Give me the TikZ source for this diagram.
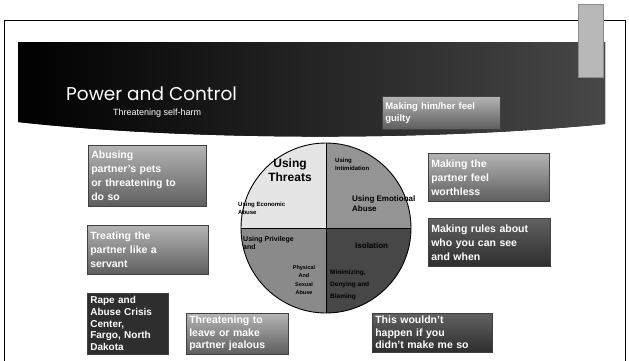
\documentclass[tikz,border=0pt]{standalone}
\usepackage{fontspec}
\setmainfont{Liberation Sans}
\newfontfamily\titlefont{Poppins}
\usetikzlibrary{positioning,calc}
\definecolor{boxtop}{HTML}{B4B4B4}
\definecolor{boxbot}{HTML}{5E5E5E}
\definecolor{darkbox}{HTML}{2E2E2E}

\begin{document}
\begin{tikzpicture}[x=1pt, y=-1pt,
  tagbox/.style={draw=black!75, line width=0.6pt, top color=boxtop, bottom color=boxbot,
    text=white, align=left, anchor=north west, inner sep=3pt, text width=#1,
    font=\bfseries\fontsize{10.5}{14}\selectfont},
  darktag/.style={tagbox=#1, top color=black!62, bottom color=black!82},
  lowtag/.style={inner ysep=3pt, font=\bfseries\fontsize{10.5}{12.5}\selectfont},
  pielabel/.style={font=\bfseries\fontsize{6}{7.5}\selectfont, align=left, anchor=north west, inner sep=0pt}]
\useasboundingbox (0,0) rectangle (629,360);
% ================= slide frame and banner =================
\draw[line width=0.8pt] (4,20) rectangle (625,372);
\fill[left color=black, right color=black!72] (18,42) -- (605,42) -- (605,124)
   .. controls (420,142) and (180,140) .. (18,122) -- cycle;
\fill[black!28] (578,4) rectangle (603,77);
\draw[black!45] (578,4) rectangle (603,77);
\node[font=\titlefont\fontsize{18.5}{22}\selectfont, text=white, anchor=base west, inner sep=0pt]
   (title) at (66,100) {Power and Control};
\node[font=\fontsize{9}{11}\selectfont, text=white, anchor=base west, inner sep=0pt]
   (subtitle) at (113,115) {Threatening self-harm};
\node[tagbox=112pt, minimum height=33, font=\bfseries\fontsize{9.5}{12}\selectfont] (guilt) at (382,96)
   {Making him/her feel\\guilty};
% ================= wheel =================
\coordinate (hub) at (326,228);
\begin{scope}
  \clip (hub) circle (85);
  \fill[black!10] (241,143) rectangle (326,228);
  \fill[black!42] (326,143) rectangle (411,228);
  \fill[black!46] (241,228) rectangle (326,313);
  \fill[black!72] (326,228) rectangle (411,313);
\end{scope}
\draw[line width=0.9pt] (hub) circle (85);
\draw[line width=0.9pt] (326,143) -- (326,313);
\draw[line width=0.6pt] (241,228) -- (411,228);
\node[font=\bfseries\fontsize{12}{14}\selectfont, align=center, inner sep=0pt] (threats) at (290,170)
   {Using\\Threats};
\node[pielabel] (intim) at (335,158) {Using\\Intimidation};
\node[pielabel, font=\bfseries\fontsize{8}{10}\selectfont] (emotion) at (352,195) {Using Emotional\\Abuse};
\node[pielabel] (econ) at (238,202) {Using Economic\\Abuse};
\node[pielabel, font=\bfseries\fontsize{7}{8.5}\selectfont] (privilege) at (243,236) {Using Privilege\\and};
\node[pielabel, font=\bfseries\fontsize{5.5}{8.5}\selectfont, align=center, anchor=north] (physical) at (304,265)
   {Physical\\And\\Sexual\\Abuse};
\node[pielabel, font=\bfseries\fontsize{8}{10}\selectfont] (isolation) at (355,242) {Isolation};
\node[pielabel, font=\bfseries\fontsize{6.5}{12}\selectfont] (minimize) at (330,270)
   {Minimizing,\\Denying and\\Blaming};
% ================= example boxes =================
\node[tagbox=112pt, minimum height=61] (pets) at (88,145)
   {Abusing\\partner's pets\\or threatening to\\do so};
\node[tagbox=115pt, minimum height=49] (servant) at (87,225)
   {Treating the\\partner like a\\servant};
\node[darktag=75pt, top color=darkbox, bottom color=darkbox, lowtag,
   font=\bfseries\fontsize{10}{11.8}\selectfont] (center) at (87,293)
   {Rape and\\Abuse Crisis\\Center,\\Fargo, North\\Dakota};
\node[tagbox=96pt, lowtag] (jealous) at (186,313)
   {Threatening to\\leave or make\\partner jealous};
\node[darktag=114pt, lowtag] (blame) at (372,313)
   {This wouldn't\\happen if you\\didn't make me so};
\node[tagbox=115pt, minimum height=48] (worthless) at (428,153)
   {Making the\\partner feel\\worthless};
\node[darktag=116pt, minimum height=48] (rules) at (428,218)
   {Making rules about\\who you can see\\and when};
\end{tikzpicture}
\end{document}
